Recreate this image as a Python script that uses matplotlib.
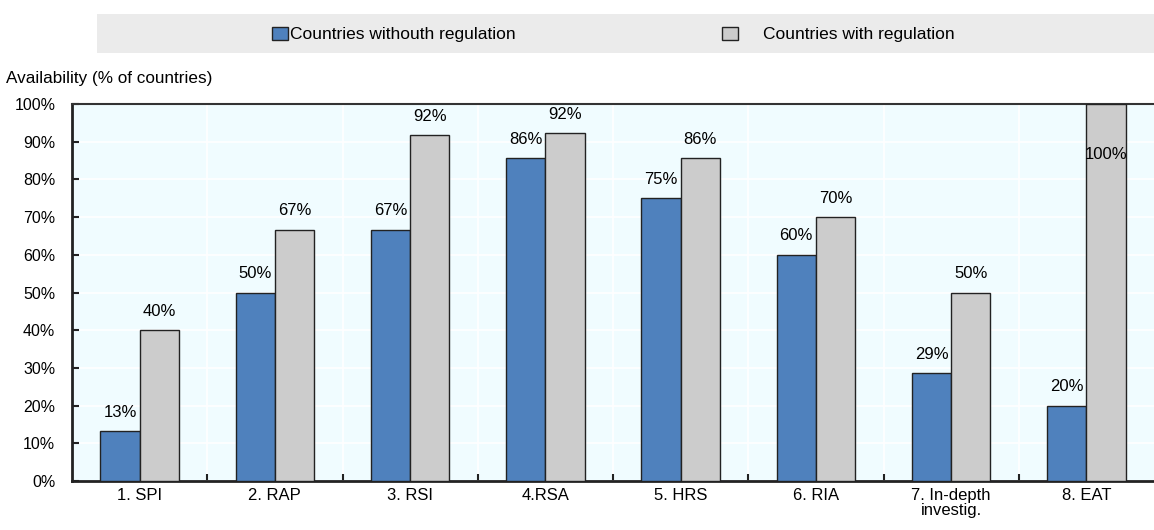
import numpy as np
import matplotlib.pyplot as plt
from matplotlib.patches import Rectangle
from matplotlib.ticker import MultipleLocator, FuncFormatter

plt.rcParams['font.family'] = ['Liberation Sans', 'DejaVu Sans']

categories = ['1. SPI', '2. RAP', '3. RSI', '4.RSA', '5. HRS', '6. RIA',
              '7. In-depth\ninvestig.', '8. EAT']
without_reg = [13.3, 50.0, 66.7, 85.7, 75.0, 60.0, 28.6, 20.0]
with_reg = [40.0, 66.7, 91.7, 92.3, 85.7, 70.0, 50.0, 100.0]
series_names = ['Countries withouth regulation', 'Countries with regulation']

blue = '#4F81BD'
grey = '#CCCCCC'
fs = 12

fig = plt.figure(figsize=(11.54, 5.30), dpi=100)
ax = fig.add_axes([72 / 1154, 1 - 481 / 530, 1082 / 1154, 377 / 530])
ax.set_facecolor('#F0FCFF')

x = np.arange(len(categories))
w = 0.29
ax.bar(x - w / 2, without_reg, w, color=blue, edgecolor='#222222', lw=1, zorder=3)
ax.bar(x + w / 2, with_reg, w, color=grey, edgecolor='#222222', lw=1, zorder=3)

for xi, v in zip(x - w / 2, without_reg):
    ax.text(xi, v + 3, '%d%%' % round(v), ha='center', va='bottom', fontsize=fs, zorder=4)
for xi, v in zip(x + w / 2, with_reg):
    y = v + 3 if v < 95 else 84.5
    ax.text(xi, y, '%d%%' % round(v), ha='center', va='bottom', fontsize=fs, zorder=4,
            clip_on=False)

ax.set_xlim(-0.5, len(categories) - 0.5)
ax.set_ylim(0, 100)
ax.yaxis.set_major_locator(MultipleLocator(10))
ax.yaxis.set_major_formatter(FuncFormatter(lambda v, p: '%d%%' % v))
ax.set_xticks(x)
ax.set_xticklabels(categories, fontsize=fs, linespacing=1.0)
ax.set_xticks(x[:-1] + 0.5, minor=True)
ax.tick_params(axis='x', which='major', length=0, pad=5)
ax.tick_params(axis='x', which='minor', direction='in', length=5, width=1.5, color='#222222')
ax.tick_params(axis='y', direction='in', length=5, width=1.5, labelsize=fs - 0.5, pad=12,
               color='#222222')

ax.grid(axis='y', color='white', lw=1.2, zorder=0)
for bx in x[:-1] + 0.5:
    ax.axvline(bx, color='white', lw=1.2, zorder=0)

for s in ['left', 'bottom']:
    ax.spines[s].set_linewidth(2)
    ax.spines[s].set_color('#222222')
ax.spines['top'].set_linewidth(1.5)
ax.spines['top'].set_color('#333333')
ax.spines['right'].set_visible(False)

fig.text(6 / 1154, 1 - 78 / 530, 'Availability (% of countries)', fontsize=12.3, va='center')

# legend band
fig.patches.append(Rectangle((97 / 1154, 1 - 53 / 530), 1057 / 1154, 39 / 530,
                             transform=fig.transFigure, facecolor='#EBEBEB', edgecolor='none'))
for (lx, tx), name, col in zip([(272, 290), (722, 763)], series_names, [blue, grey]):
    fig.patches.append(Rectangle((lx / 1154, 1 - 40 / 530), 16 / 1154, 13 / 530,
                                 transform=fig.transFigure, facecolor=col,
                                 edgecolor='#222222', lw=1))
    fig.text(tx / 1154, 1 - 34 / 530, name, fontsize=12.5, va='center')

fig.savefig('out.png', dpi=100)
